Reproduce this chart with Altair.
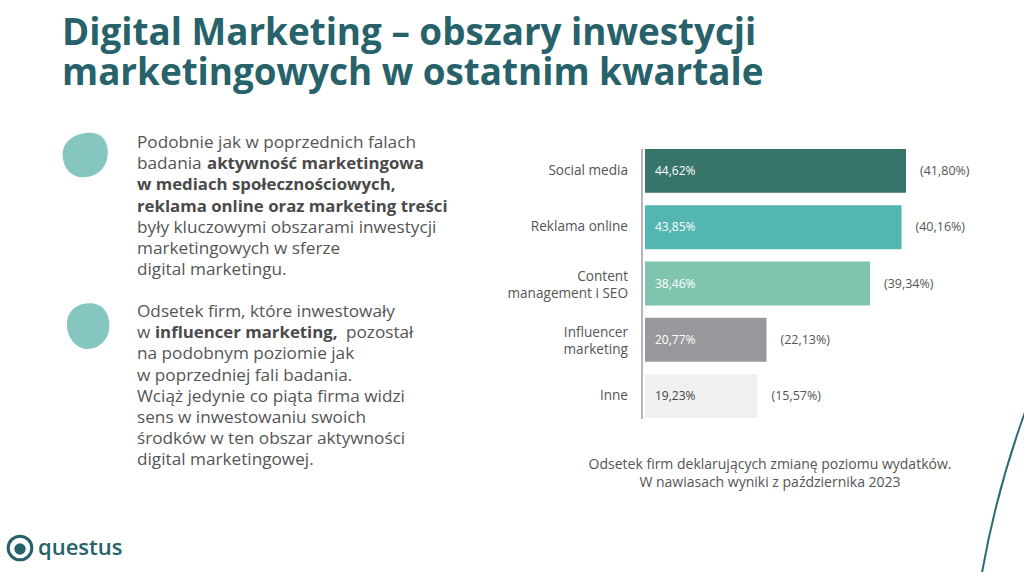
import altair as alt
import pandas as pd

# ---------------- data ----------------
categories = ["Social media", "Reklama online", "Content management i SEO",
              "Influencer marketing", "Inne"]
label_top = ["Social media", "Reklama online", "Content", "Influencer", "Inne"]
label_bottom = ["", "", "management i SEO", "marketing", ""]
current_values = [44.62, 43.85, 38.46, 20.77, 19.23]
previous_values = [41.80, 40.16, 39.34, 22.13, 15.57]
bar_colors = ["#37756B", "#53B6B0", "#7FC4AE", "#97999C", "#F0F0F0"]

title_lines = ["Digital Marketing – obszary inwestycji",
               "marketingowych w ostatnim kwartale"]
caption_lines = ["Odsetek firm deklarujących zmianę poziomu wydatków.",
                 "W nawiasach wyniki z października 2023"]

# paragraph 1: (text, bold, line index, x)
para1 = [
    ("Podobnie jak w poprzednich falach", False, 0, 137),
    ("badania", False, 1, 137),
    ("aktywność marketingowa", True, 1, 207),
    ("w mediach społecznościowych,", True, 2, 137),
    ("reklama online oraz marketing treści", True, 3, 137),
    ("były kluczowymi obszarami inwestycji", False, 4, 137),
    ("marketingowych w sferze", False, 5, 137),
    ("digital marketingu.", False, 6, 137),
]
para2 = [
    ("Odsetek firm, które inwestowały", False, 0, 137),
    ("w", False, 1, 137),
    ("influencer marketing,", True, 1, 155),
    ("pozostał", False, 1, 346),
    ("na podobnym poziomie jak", False, 2, 137),
    ("w poprzedniej fali badania.", False, 3, 137),
    ("Wciąż jedynie co piąta firma widzi", False, 4, 137),
    ("sens w inwestowaniu swoich", False, 5, 137),
    ("środków w ten obszar aktywności", False, 6, 137),
    ("digital marketingowej.", False, 7, 137),
]


def pl(v):
    return f"{v:.2f}%".replace(".", ",")


df = pd.DataFrame({
    "cat": categories,
    "top": label_top,
    "bottom": label_bottom,
    "cur": current_values,
    "prev": previous_values,
    "cur_txt": [pl(v) for v in current_values],
    "prev_txt": ["(" + pl(v) + ")" for v in previous_values],
})

FONT = "Open Sans"
TEXT_COL = "#555555"
TEAL = "#27626A"

X = alt.Scale(domain=[0, 50], range=[645, 937.5])
Y = alt.Scale(domain=categories, range=[142.75, 424.25],
              paddingInner=0.22, paddingOuter=0.11)

base = alt.Chart(df)
y_enc = alt.Y("cat:N", scale=Y, axis=None, sort=categories)

bars = base.mark_bar().encode(
    x=alt.X("cur:Q", scale=X, axis=None),
    y=y_enc,
    color=alt.Color("cat:N", scale=alt.Scale(domain=categories, range=bar_colors),
                    legend=None),
)

inside = base.transform_calculate(zero="0").mark_text(
    align="left", baseline="middle", dx=10, fontSize=12, font=FONT
).encode(
    x=alt.X("zero:Q", scale=X, axis=None),
    y=y_enc,
    text="cur_txt:N",
    color=alt.condition("datum.cat == 'Inne'", alt.value("#444444"), alt.value("white")),
)

prev = base.mark_text(
    align="left", baseline="middle", dx=14, fontSize=12.5, font=FONT, color=TEXT_COL
).encode(
    x=alt.X("cur:Q", scale=X, axis=None),
    y=y_enc,
    text="prev_txt:N",
)

label_kw = dict(align="right", baseline="middle", fontSize=13.6, font=FONT, color=TEXT_COL)
single_labels = base.transform_filter("datum.bottom == ''").mark_text(**label_kw).encode(
    x=alt.value(628), y=y_enc, text="top:N")
top_labels = base.transform_filter("datum.bottom != ''").mark_text(dy=-6.5, **label_kw).encode(
    x=alt.value(628), y=y_enc, text="top:N")
bottom_labels = base.transform_filter("datum.bottom != ''").mark_text(dy=10.5, **label_kw).encode(
    x=alt.value(628), y=y_enc, text="bottom:N")

one = pd.DataFrame({"k": [0]})

axis_line = alt.Chart(one).mark_rule(color="#9E9E9E", strokeWidth=1.5).encode(
    x=alt.value(642), y=alt.value(149), y2=alt.value(419)
)

layers = [bars, inside, prev, single_labels, top_labels, bottom_labels, axis_line]


def txt(text, x, y, size, color=TEXT_COL, weight="normal", align="left",
        baseline="middle"):
    return alt.Chart(one).mark_text(
        align=align, baseline=baseline, fontSize=size, font=FONT,
        fontWeight=weight, color=color
    ).encode(x=alt.value(x), y=alt.value(y), text=alt.value(text))


# title
for i, line in enumerate(title_lines):
    layers.append(txt(line, 62, 45 + i * 40, 36.8, color=TEAL, weight="bold",
                      baseline="alphabetic"))

# paragraphs
BODY = 17.2
BOLD = 16.8
for text, bold, i, x in para1:
    layers.append(txt(text, x, 143 + i * 21.2, BOLD if bold else BODY,
                      weight="bold" if bold else "normal",
                      color="#4A4A4A" if bold else TEXT_COL))
for text, bold, i, x in para2:
    layers.append(txt(text, x, 312 + i * 21.2, BOLD if bold else BODY,
                      weight="bold" if bold else "normal",
                      color="#4A4A4A" if bold else TEXT_COL))

# caption
for i, line in enumerate(caption_lines):
    layers.append(txt(line, 770, 465 + i * 17.5, 14, align="center"))

# blobs
blob_path = ("M -0.95 0.05 C -1 -0.55 -0.45 -0.95 0.2 -0.95 C 0.75 -0.95 1 -0.55 0.97 -0.05 "
             "C 0.95 0.55 0.5 0.95 -0.05 0.95 C -0.6 0.95 -0.92 0.55 -0.95 0.05 Z")
blob_path2 = ("M -0.85 -0.2 C -0.8 -0.75 -0.3 -1 0.2 -0.97 C 0.75 -0.92 1 -0.45 0.95 0.1 "
              "C 0.9 0.65 0.45 1 0 0.98 C -0.55 0.95 -0.9 0.4 -0.85 -0.2 Z")
for (bx, by, path) in [(85, 155, blob_path), (87, 326, blob_path2)]:
    layers.append(alt.Chart(one).mark_point(
        shape=path, filled=True, fill="#86C6C1", stroke=None, opacity=1, size=2200
    ).encode(x=alt.value(bx), y=alt.value(by)))

# logo
layers.append(alt.Chart(one).mark_point(
    shape="circle", filled=False, stroke=TEAL, strokeWidth=3, size=560, opacity=1
).encode(x=alt.value(20), y=alt.value(548)))
layers.append(alt.Chart(one).mark_point(
    shape="circle", filled=True, fill=TEAL, size=130, opacity=1
).encode(x=alt.value(20), y=alt.value(549)))
layers.append(txt("questus", 38, 555, 22, color=TEAL, weight=600,
                  baseline="alphabetic"))

# decorative arc bottom-right
layers.append(alt.Chart(one).mark_point(
    shape="circle", filled=False, stroke="#2E6B70", strokeWidth=2,
    size=3745000, opacity=1
).encode(x=alt.value(1935), y=alt.value(741)))

chart = alt.layer(*layers).properties(
    width=1024, height=572,
    autosize=alt.AutoSizeParams(type="none"),
    padding=0,
    background="white",
).configure_view(stroke=None)

chart.save("out.html", embed_options={"renderer": "svg", "actions": False})
